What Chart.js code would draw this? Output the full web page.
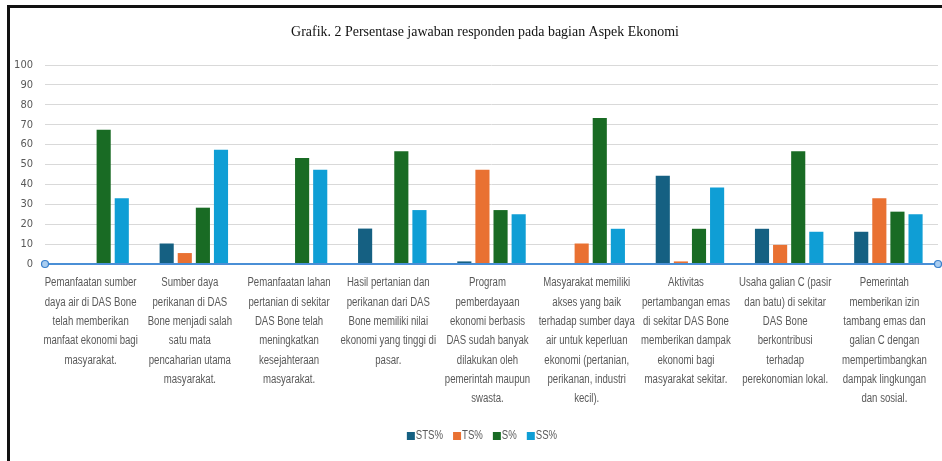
<!DOCTYPE html>
<html>
<head>
<meta charset="utf-8">
<script src="https://cdn.jsdelivr.net/npm/chart.js@4"></script>
<style>
    body { margin: 0; background: #fff; }
    #wrap { position: relative; width: 942px; height: 461px; }
    #frame {
        position: absolute; left: 7px; top: 5px; right: 0; bottom: 0;
        border-left: 3px solid #111; border-top: 3px solid #111;
        pointer-events: none;
    }
</style>
</head>
<body>
<div id="wrap">
    <canvas id="grafik" width="942" height="461"></canvas>
    <div id="frame"></div>
</div>
<script>
const kategori = [
    ['Pemanfaatan sumber', 'daya air di DAS Bone', 'telah memberikan', 'manfaat ekonomi bagi', 'masyarakat.'],
    ['Sumber daya', 'perikanan di DAS', 'Bone menjadi salah', 'satu mata', 'pencaharian utama', 'masyarakat.'],
    ['Pemanfaatan lahan', 'pertanian di sekitar', 'DAS Bone telah', 'meningkatkan', 'kesejahteraan', 'masyarakat.'],
    ['Hasil pertanian dan', 'perikanan dari DAS', 'Bone memiliki nilai', 'ekonomi yang tinggi di', 'pasar.'],
    ['Program', 'pemberdayaan', 'ekonomi berbasis', 'DAS sudah banyak', 'dilakukan oleh', 'pemerintah maupun', 'swasta.'],
    ['Masyarakat memiliki', 'akses yang baik', 'terhadap sumber daya', 'air untuk keperluan', 'ekonomi (pertanian,', 'perikanan, industri', 'kecil).'],
    ['Aktivitas', 'pertambangan emas', 'di sekitar DAS Bone', 'memberikan dampak', 'ekonomi bagi', 'masyarakat sekitar.'],
    ['Usaha galian C (pasir', 'dan batu) di sekitar', 'DAS Bone', 'berkontribusi', 'terhadap', 'perekonomian lokal.'],
    ['Pemerintah', 'memberikan izin', 'tambang emas dan', 'galian C dengan', 'mempertimbangkan', 'dampak lingkungan', 'dan sosial.']
];

const sts = [0, 10.3, 0, 17.8, 1.3, 0, 44.4, 17.7, 16.2];
const ts = [0, 5.5, 0, 0, 47.3, 10.3, 1.3, 9.6, 33.1];
const s = [67.5, 28.3, 53.3, 56.6, 27.1, 73.4, 17.7, 56.6, 26.3];
const ss = [33.1, 57.4, 47.3, 27.1, 25.0, 17.7, 38.4, 16.2, 25.0];

const judul = 'Grafik. 2 Persentase jawaban responden pada bagian Aspek Ekonomi';
const fontSans = "'Liberation Sans', Arial, sans-serif";
const abu = '#595959';
const sempit = 0.8; // huruf dipersempit seperti Arial Narrow

function tulisSempit(ctx, teks, x, y, skala) {
    ctx.save();
    ctx.translate(x, y);
    ctx.scale(skala, 1);
    ctx.fillText(teks, 0, 0);
    ctx.restore();
}

// judul, label kategori dan legenda digambar dengan huruf sempit
const teksSempit = {
    id: 'teksSempit',
    afterDraw(chart) {
        const ctx = chart.ctx;
        const xs = chart.scales.x;
        const y0 = chart.scales.y.getPixelForValue(0);
        ctx.save();

        // judul
        ctx.fillStyle = '#111';
        ctx.font = "15px 'Liberation Serif', serif";
        ctx.textAlign = 'center';
        ctx.textBaseline = 'middle';
        tulisSempit(ctx, judul, 485, 32, 0.93);

        // label kategori
        ctx.fillStyle = abu;
        ctx.font = '12px ' + fontSans;
        kategori.forEach((baris, i) => {
            const cx = xs.getPixelForTick(i) - 4;
            baris.forEach((t, j) => {
                tulisSempit(ctx, t, cx, y0 + 19 + j * 19.3, sempit);
            });
        });

        // legenda
        ctx.textAlign = 'left';
        const sets = chart.data.datasets;
        const lebar = sets.map(d => ctx.measureText(d.label).width * sempit);
        const kotak = 8, jarak = 1, antar = 10;
        let total = 0;
        lebar.forEach(w => total += kotak + jarak + w);
        total += antar * (sets.length - 1);
        let x = 482 - total / 2;
        const ly = 436;
        sets.forEach((d, i) => {
            ctx.fillStyle = d.backgroundColor;
            ctx.fillRect(x, ly - 4, kotak, kotak);
            ctx.fillStyle = abu;
            tulisSempit(ctx, d.label, x + kotak + jarak, ly, sempit);
            x += kotak + jarak + lebar[i] + antar;
        });

        ctx.restore();
    }
};

// garis sumbu x biru dengan lingkaran di ujungnya (seperti sumbu terpilih di Excel)
const garisSumbu = {
    id: 'garisSumbu',
    afterDraw(chart) {
        const ctx = chart.ctx;
        const area = chart.chartArea;
        const y = chart.scales.y.getPixelForValue(0);
        ctx.save();
        ctx.strokeStyle = '#4a8fd6';
        ctx.lineWidth = 2;
        ctx.beginPath();
        ctx.moveTo(area.left, y);
        ctx.lineTo(area.right, y);
        ctx.stroke();
        [area.left, area.right].forEach(x => {
            ctx.beginPath();
            ctx.arc(x, y, 3.5, 0, Math.PI * 2);
            ctx.fillStyle = '#a9cdf0';
            ctx.fill();
            ctx.lineWidth = 1.2;
            ctx.strokeStyle = '#3a80cc';
            ctx.stroke();
        });
        ctx.restore();
    }
};

const ctx = document.getElementById('grafik').getContext('2d');
new Chart(ctx, {
    type: 'bar',
    data: {
        labels: kategori,
        datasets: [
            { label: 'STS%', data: sts, backgroundColor: '#156082' },
            { label: 'TS%', data: ts, backgroundColor: '#e97132' },
            { label: 'S%', data: s, backgroundColor: '#196b24' },
            { label: 'SS%', data: ss, backgroundColor: '#0f9ed5' }
        ]
    },
    options: {
        responsive: false,
        animation: false,
        layout: { padding: { top: 65, right: 4, bottom: 41, left: 0 } },
        datasets: {
            bar: { categoryPercentage: 0.73, barPercentage: 0.78 }
        },
        scales: {
            x: {
                grid: { display: false, drawTicks: false },
                border: { display: false },
                ticks: { display: false },
                afterFit(scale) { scale.height = 156; }
            },
            y: {
                min: 0,
                max: 100,
                grid: {
                    color: ctx => ctx.tick.value === 0 ? 'rgba(0,0,0,0)' : '#d9d9d9',
                    drawTicks: false
                },
                border: { display: false },
                ticks: {
                    stepSize: 10,
                    padding: 12,
                    color: abu,
                    font: { family: "'DejaVu Sans Condensed', sans-serif", size: 11 }
                },
                afterFit(scale) { scale.width = 45; }
            }
        },
        plugins: {
            title: { display: false },
            legend: { display: false },
            tooltip: { enabled: false }
        }
    },
    plugins: [garisSumbu, teksSempit]
});
</script>
</body>
</html>
